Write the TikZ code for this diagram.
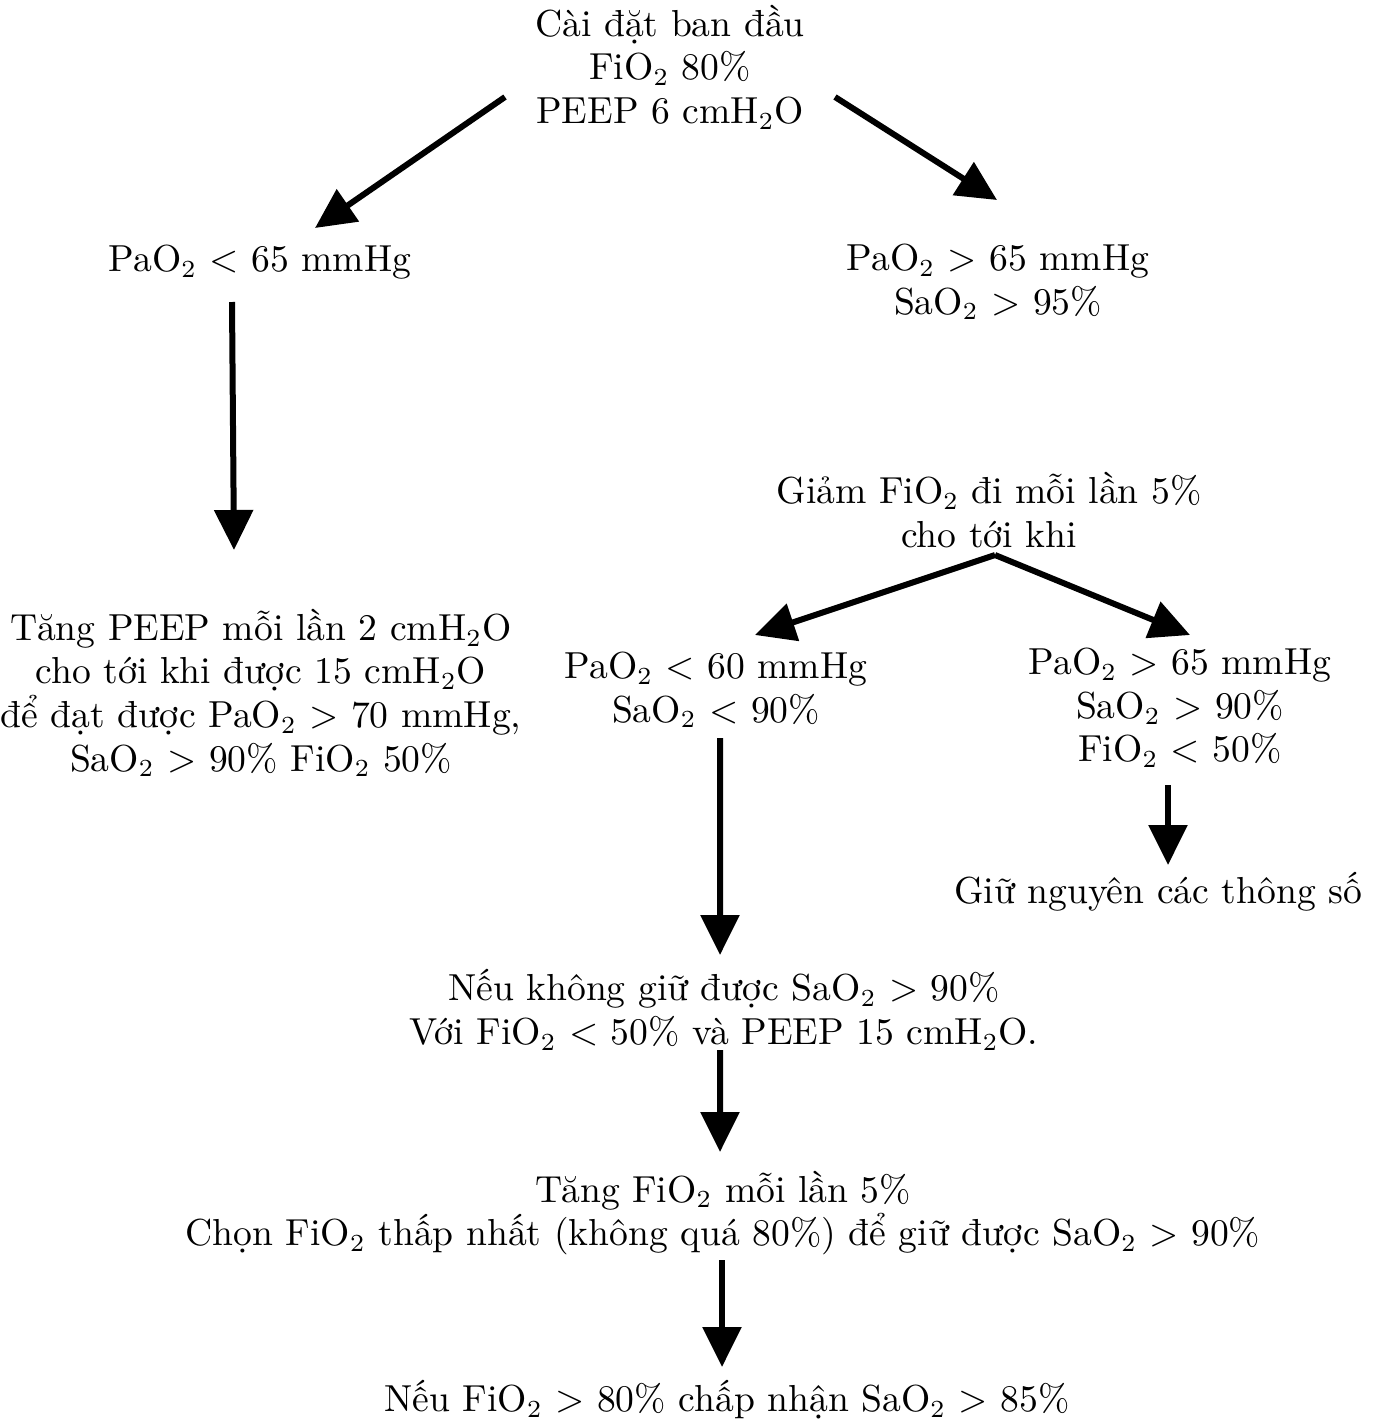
\documentclass[tikz,border=0pt]{standalone}
\usepackage{fontspec}
\usepackage{tikz}
\usetikzlibrary{arrows.meta, calc}

\begin{document}
\begin{tikzpicture}[
    every node/.style={align=center, inner sep=0pt, font=\fontsize{10.7}{12.4}\selectfont},
    arr/.style={line width=0.06cm, -{Triangle[length=4mm, width=3.8mm]}}
]
    \useasboundingbox (0,0) rectangle (13.8,-14.2);

    \node (start) at (6.70,-0.67) {Cài đặt ban đầu\\FiO$_2$ 80\%\\PEEP 6 cmH$_2$O};
    \node (lowpa) at (2.60,-2.62) {PaO$_2$ < 65 mmHg};
    \node (highpa) at (9.98,-2.82) {PaO$_2$ > 65 mmHg\\SaO$_2$ > 95\%};
    \node (peep) at (2.61,-6.93) {Tăng PEEP mỗi lần 2 cmH$_2$O\\cho tới khi được 15 cmH$_2$O\\để đạt được PaO$_2$ > 70 mmHg,\\SaO$_2$ > 90\% FiO$_2$ 50\%};
    \node (reduce) at (9.89,-5.10) {Giảm FiO$_2$ đi mỗi lần 5\%\\cho tới khi};
    \node (lowsa) at (7.16,-6.90) {PaO$_2$ < 60 mmHg\\SaO$_2$ < 90\%};
    \node (okay) at (11.80,-7.08) {PaO$_2$ > 65 mmHg\\SaO$_2$ > 90\%\\FiO$_2$ < 50\%};
    \node (keep) at (11.58,-8.92) {Giữ nguyên các thông số};
    \node (fail) at (7.24,-10.10) {Nếu không giữ được SaO$_2$ > 90\%\\Với FiO$_2$ < 50\% và PEEP 15 cmH$_2$O.};
    \node (raise) at (7.23,-12.13) {Tăng FiO$_2$ mỗi lần 5\%\\Chọn FiO$_2$ thấp nhất (không quá 80\%) để giữ được SaO$_2$ > 90\%};
    \node (accept) at (7.27,-14.00) {Nếu FiO$_2$ > 80\% chấp nhận SaO$_2$ > 85\%};

    % split point under the reduce step
    \coordinate (split) at ([shift={(0.06,-0.45)}]reduce.center);

    \draw[arr] ([shift={(-1.65,-0.30)}]start.center) -- ([shift={(0.55,0.34)}]lowpa.center);
    \draw[arr] ([shift={(1.65,-0.30)}]start.center) -- ([shift={(-0.01,0.82)}]highpa.center);
    \draw[arr] ([shift={(-0.28,-0.40)}]lowpa.center) -- ([shift={(-0.27,1.43)}]peep.center);
    \draw[arr] (split) -- ([shift={(0.39,0.55)}]lowsa.center);
    \draw[arr] (split) -- ([shift={(0.10,0.73)}]okay.center);
    \draw[arr] ([shift={(-0.12,-0.77)}]okay.center) -- ([shift={(0.10,0.27)}]keep.center);
    \draw[arr] ([shift={(0.04,-0.48)}]lowsa.center) -- ([shift={(-0.04,0.55)}]fail.center);
    \draw[arr] ([shift={(-0.04,-0.40)}]fail.center) -- ([shift={(-0.03,0.61)}]raise.center);
    \draw[arr] ([shift={(-0.01,-0.47)}]raise.center) -- ([shift={(-0.05,0.33)}]accept.center);
\end{tikzpicture}
\end{document}
